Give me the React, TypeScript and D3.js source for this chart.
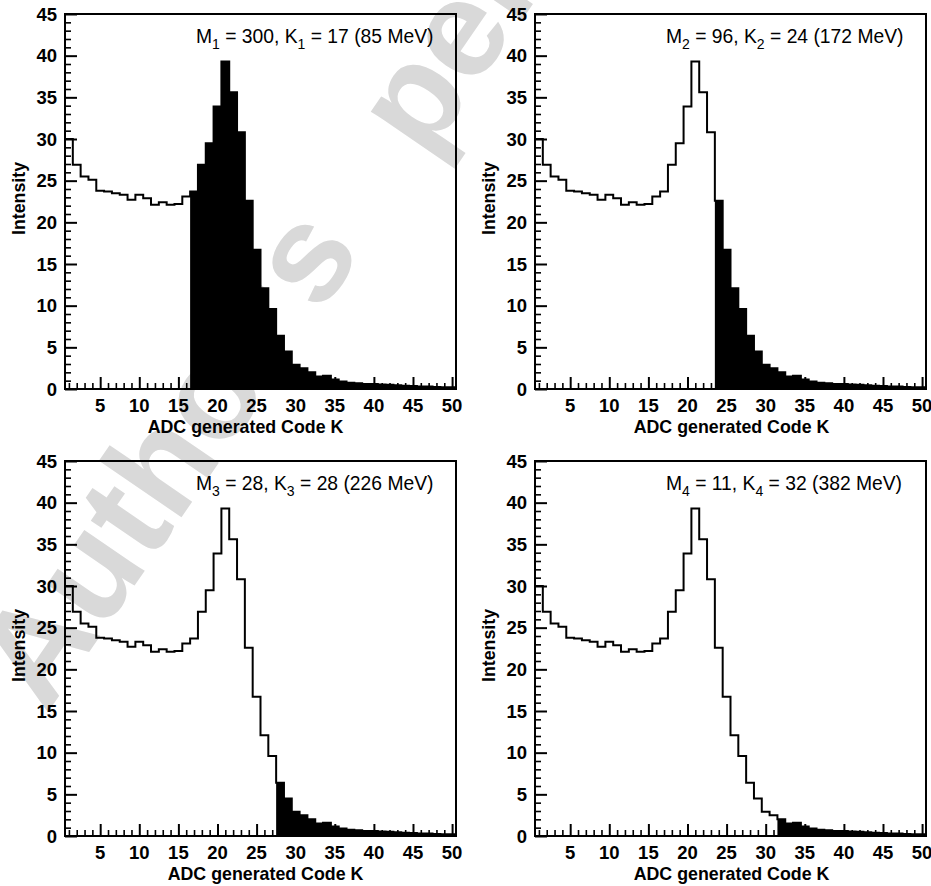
import * as d3 from 'd3';
import React, { useEffect, useRef } from 'react';

// ADC code K (bin centres) and the measured intensity in each bin
const codes = [
  1, 2, 3, 4, 5, 6, 7, 8, 9, 10, 11, 12, 13, 14, 15, 16, 17, 18, 19, 20, 21, 22, 23, 24, 25,
  26, 27, 28, 29, 30, 31, 32, 33, 34, 35, 36, 37, 38, 39, 40, 41, 42, 43, 44, 45, 46, 47, 48, 49, 50,
];
const intensity = [
  30.0, 26.9, 25.5, 25.1, 23.8, 23.7, 23.5, 23.3, 22.7, 23.3,
  22.9, 22.1, 22.4, 22.1, 22.2, 23.1, 23.7, 26.9, 29.5, 33.9,
  39.3, 35.6, 30.8, 22.6, 16.7, 12.1, 9.6, 6.4, 4.5, 2.9,
  2.5, 2.0, 1.5, 1.6, 1.15, 0.9, 0.75, 0.7, 0.6, 0.6,
  0.55, 0.5, 0.45, 0.4, 0.35, 0.3, 0.3, 0.25, 0.2, 0.2,
];

// one panel per threshold
const panelIndex = ['1', '2', '3', '4'];
const thresholdM = [300, 96, 28, 11];
const thresholdK = [17, 24, 28, 32];
const thresholdMeV = [85, 172, 226, 382];

const xTickLabels = [5, 10, 15, 20, 25, 30, 35, 40, 45, 50];
const yTickLabels = [0, 5, 10, 15, 20, 25, 30, 35, 40, 45];

const xTitle = 'ADC generated Code K';
const yTitle = 'Intensity';
const watermarkWords = ["Author's", 'personal copy'];

const W = 931;
const H = 886;
const plotW = 391;
const plotH = 375;
const panelPos = [
  { left: 65, top: 14, titleDx: -15 },
  { left: 535, top: 14, titleDx: 1 },
  { left: 65, top: 461, titleDx: 5 },
  { left: 535, top: 461, titleDx: 1 },
];

const App = () => {
  const svgRef = useRef<SVGSVGElement>(null);

  useEffect(() => {
    const svg = d3.select(svgRef.current);
    svg.selectAll('*').remove();
    const font = '"Liberation Sans", Arial, sans-serif';

    // watermark behind everything
    const wm = svg.append('text')
      .attr('x', 46)
      .attr('y', 715)
      .attr('transform', 'rotate(-55.6, 46, 715)')
      .attr('font-family', font)
      .attr('font-weight', 'bold')
      .attr('font-size', 138)
      .attr('fill', '#d9d9d9');
    wm.append('tspan').text(watermarkWords[0]);
    wm.append('tspan').attr('dx', 72).text(' ' + watermarkWords[1]);

    const bins = codes.map((k, i) => ({ k, v: intensity[i] }));

    panelPos.forEach((pos, p) => {
      const x = d3.scaleLinear().domain([0.5, 50.5]).range([0, plotW]);
      const y = d3.scaleLinear().domain([0, 45]).range([plotH, 0]);
      const g = svg.append('g').attr('transform', `translate(${pos.left},${pos.top})`);

      // filled part, bins from K_p upwards
      const cut = bins.filter(d => d.k >= thresholdK[p]);
      const last = cut[cut.length - 1];
      const fillPts = [...cut.map(d => [d.k - 0.5, d.v]), [last.k + 0.5, last.v]];
      g.append('path')
        .attr('d', d3.area<number[]>()
          .x(d => x(d[0]))
          .y0(y(0))
          .y1(d => y(d[1]))
          .curve(d3.curveStepAfter)(fillPts))
        .attr('fill', '#000');

      // histogram outline
      const first = bins[0];
      const end = bins[bins.length - 1];
      const linePts = [
        [first.k - 0.5, 0],
        ...bins.map(d => [d.k - 0.5, d.v]),
        [end.k + 0.5, end.v],
        [end.k + 0.5, 0],
      ];
      g.append('path')
        .attr('d', d3.line<number[]>()
          .x(d => x(d[0]))
          .y(d => y(d[1]))
          .curve(d3.curveStepAfter)(linePts))
        .attr('fill', 'none')
        .attr('stroke', '#000')
        .attr('stroke-width', 2);

      // inward ticks
      const yAxis = d3.axisRight(y).ticks(45).tickSize(6).tickFormat(() => '');
      const yg = g.append('g').call(yAxis);
      yg.select('.domain').remove();
      yg.selectAll('.tick line')
        .attr('x2', (d: any) => (d % 5 === 0 ? 12 : 6))
        .attr('stroke-width', (d: any) => (d % 5 === 0 ? 2 : 1.6));

      const xAxis = d3.axisTop(x).tickValues(codes).tickSize(6).tickFormat(() => '');
      const xg = g.append('g').attr('transform', `translate(0,${plotH})`).call(xAxis);
      xg.select('.domain').remove();
      xg.selectAll('.tick line')
        .attr('y2', (d: any) => (d % 5 === 0 ? -12 : -6))
        .attr('stroke-width', (d: any) => (d % 5 === 0 ? 2 : 1.6));

      // tick labels
      g.selectAll('.ylab')
        .data(yTickLabels)
        .enter()
        .append('text')
        .attr('x', -8)
        .attr('y', d => y(d) + 6.5)
        .attr('text-anchor', 'end')
        .attr('font-family', font)
        .attr('font-weight', 'bold')
        .attr('font-size', 18.5)
        .text(d => d);

      g.selectAll('.xlab')
        .data(xTickLabels)
        .enter()
        .append('text')
        .attr('x', d => x(d))
        .attr('y', plotH + 22.5)
        .attr('text-anchor', 'middle')
        .attr('font-family', font)
        .attr('font-weight', 'bold')
        .attr('font-size', 18.5)
        .text(d => d);

      // frame
      g.append('rect')
        .attr('width', plotW)
        .attr('height', plotH)
        .attr('fill', 'none')
        .attr('stroke', '#000')
        .attr('stroke-width', 2);

      // axis titles
      g.append('text')
        .attr('x', plotW / 2 + pos.titleDx)
        .attr('y', plotH + 44)
        .attr('text-anchor', 'middle')
        .attr('font-family', font)
        .attr('font-weight', 'bold')
        .attr('font-size', 17.8)
        .text(xTitle);

      g.append('text')
        .attr('transform', `translate(-40,${plotH / 2 - 3}) rotate(-90)`)
        .attr('text-anchor', 'middle')
        .attr('font-family', font)
        .attr('font-weight', 'bold')
        .attr('font-size', 17.8)
        .text(yTitle);

      // threshold annotation
      const ann = g.append('text')
        .attr('x', 131)
        .attr('y', 28.5)
        .attr('font-family', font)
        .attr('font-size', 19.3);
      const n = panelIndex[p];
      ann.append('tspan').text('M');
      ann.append('tspan').attr('dy', 6).attr('font-size', 14).text(n);
      ann.append('tspan').attr('dy', -6).text(` = ${thresholdM[p]}, K`);
      ann.append('tspan').attr('dy', 6).attr('font-size', 14).text(n);
      ann.append('tspan').attr('dy', -6).text(` = ${thresholdK[p]} (${thresholdMeV[p]} MeV)`);
    });
  }, []);

  return (
    <svg
      ref={svgRef}
      width={W}
      height={H}
      style={{ position: 'absolute', left: 0, top: 0, display: 'block', background: '#fff' }}
    />
  );
};

export default App;
